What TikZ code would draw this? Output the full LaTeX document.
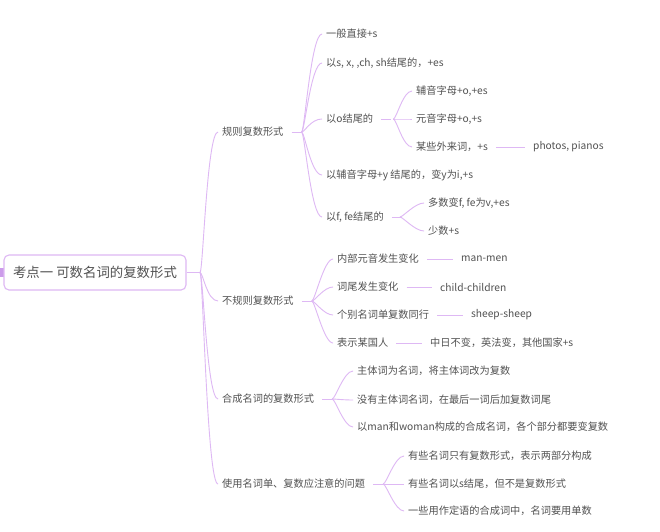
\documentclass[tikz,border=0pt]{standalone}
\usepackage{fontspec}
\setmainfont{Noto Sans CJK SC}
\usetikzlibrary{calc}
\definecolor{linkcol}{RGB}{222,184,244}
\definecolor{markcol}{RGB}{204,156,234}
\definecolor{txtcol}{RGB}{82,82,82}
\tikzset{
  topic/.style={anchor=west, inner xsep=3pt, inner ysep=2pt, text=txtcol, font=\fontsize{10.2}{12}\selectfont},
  roottopic/.style={draw=linkcol, line width=1.1pt, rounded corners=5pt, minimum width=182pt, minimum height=35pt, text=txtcol, font=\fontsize{13.4}{16}\selectfont},
  link/.style={draw=linkcol, line width=0.9pt},
}
\begin{document}
\begin{tikzpicture}[x=1pt,y=-1pt]
	\useasboundingbox[fill=white] (0,0) rectangle (660,531);
	\fill[markcol] (0,268) rectangle (4,277);
	% root and first level
	\node[roottopic] (root) at (95,272.5) {考点一 可数名词的复数形式};
	\node[topic] (r1) at (219,132) {规则复数形式};
	\node[topic] (r2) at (219,301) {不规则复数形式};
	\node[topic] (r3) at (219,399) {合成名词的复数形式};
	\node[topic] (r4) at (219,484) {使用名词单、复数应注意的问题};
	% regular forms
	\node[topic] (a1) at (323,34) {一般直接+s};
	\node[topic] (a2) at (323,63) {以s, x, ,ch, sh结尾的，+es};
	\node[topic] (a3) at (323,119) {以o结尾的};
	\node[topic] (a4) at (323,175) {以辅音字母+y 结尾的，变y为i,+s};
	\node[topic] (a5) at (323,217) {以f, fe结尾的};
	\node[topic] (o1) at (413,91) {辅音字母+o,+es};
	\node[topic] (o2) at (413,119) {元音字母+o,+s};
	\node[topic] (o3) at (413,147) {某些外来词，+s};
	\node[topic] (o3x) at (530,147) {photos, pianos};
	\node[topic] (f1) at (425,203) {多数变f, fe为v,+es};
	\node[topic] (f2) at (425,231) {少数+s};
	% irregular forms
	\node[topic] (i1) at (334,259) {内部元音发生变化};
	\node[topic] (i2) at (334,287) {词尾发生变化};
	\node[topic] (i3) at (334,315) {个别名词单复数同行};
	\node[topic] (i4) at (334,343) {表示某国人};
	\node[topic] (i1x) at (458,259) {man-men};
	\node[topic] (i2x) at (437,287) {child-children};
	\node[topic] (i3x) at (468,315) {sheep-sheep};
	\node[topic] (i4x) at (427,343) {中日不变，英法变，其他国家+s};
	% compound nouns
	\node[topic] (c1) at (354,371) {主体词为名词，将主体词改为复数};
	\node[topic] (c2) at (354,400) {没有主体词名词，在最后一词后加复数词尾};
	\node[topic] (c3) at (354,427) {以man和woman构成的合成名词，各个部分都要变复数};
	% notes
	\node[topic] (n1) at (405,456) {有些名词只有复数形式，表示两部分构成};
	\node[topic] (n2) at (405,484) {有些名词以s结尾，但不是复数形式};
	\node[topic] (n3) at (405,511) {一些用作定语的合成词中，名词要用单数};
	% branch points
	\coordinate (b0) at (200,272.5);
	\coordinate (b1) at ($(r1.east)+(15,0)$);
	\coordinate (b2) at ($(r2.east)+(15,0)$);
	\coordinate (b3) at ($(r3.east)+(15,0)$);
	\coordinate (b4) at ($(r4.east)+(15,0)$);
	\coordinate (bo) at ($(a3.east)+(17,0)$);
	\coordinate (bf) at ($(a5.east)+(13,0)$);
	\draw[link] (root.east) -- (b0);
	\foreach \p in {r1,r2,r3,r4,a3,a5}
		\draw[link] ($(\p.east)+(5,0)$) -- +(10,0);
	\foreach \c in {r1,r2,r3,r4}
		\draw[link] (b0) .. controls ($(b0)+(3,0)$) and ($(\c.west)+(-12,0)$) .. ($(\c.west)+(-1,0)$);
	\foreach \c in {a1,a2,a3,a4,a5}
		\draw[link] (b1) .. controls ($(b1)+(3,0)$) and ($(\c.west)+(-12,0)$) .. ($(\c.west)+(-1,0)$);
	\foreach \c in {o1,o2,o3}
		\draw[link] (bo) .. controls ($(bo)+(3,0)$) and ($(\c.west)+(-10,0)$) .. ($(\c.west)+(-1,0)$);
	\foreach \c in {f1,f2}
		\draw[link] (bf) .. controls ($(bf)+(3,0)$) and ($(\c.west)+(-10,0)$) .. ($(\c.west)+(-1,0)$);
	\foreach \c in {i1,i2,i3,i4}
		\draw[link] (b2) .. controls ($(b2)+(3,0)$) and ($(\c.west)+(-10,0)$) .. ($(\c.west)+(-1,0)$);
	\foreach \c in {c1,c2,c3}
		\draw[link] (b3) .. controls ($(b3)+(3,0)$) and ($(\c.west)+(-10,0)$) .. ($(\c.west)+(-1,0)$);
	\foreach \c in {n1,n2,n3}
		\draw[link] (b4) .. controls ($(b4)+(3,0)$) and ($(\c.west)+(-10,0)$) .. ($(\c.west)+(-1,0)$);
	% single leaves
	\foreach \a/\b in {o3/o3x,i1/i1x,i2/i2x,i3/i3x,i4/i4x}
		\draw[link] ($(\a.east)+(5,0)$) -- ($(\b.west)+(-5,0)$);
\end{tikzpicture}
\end{document}
